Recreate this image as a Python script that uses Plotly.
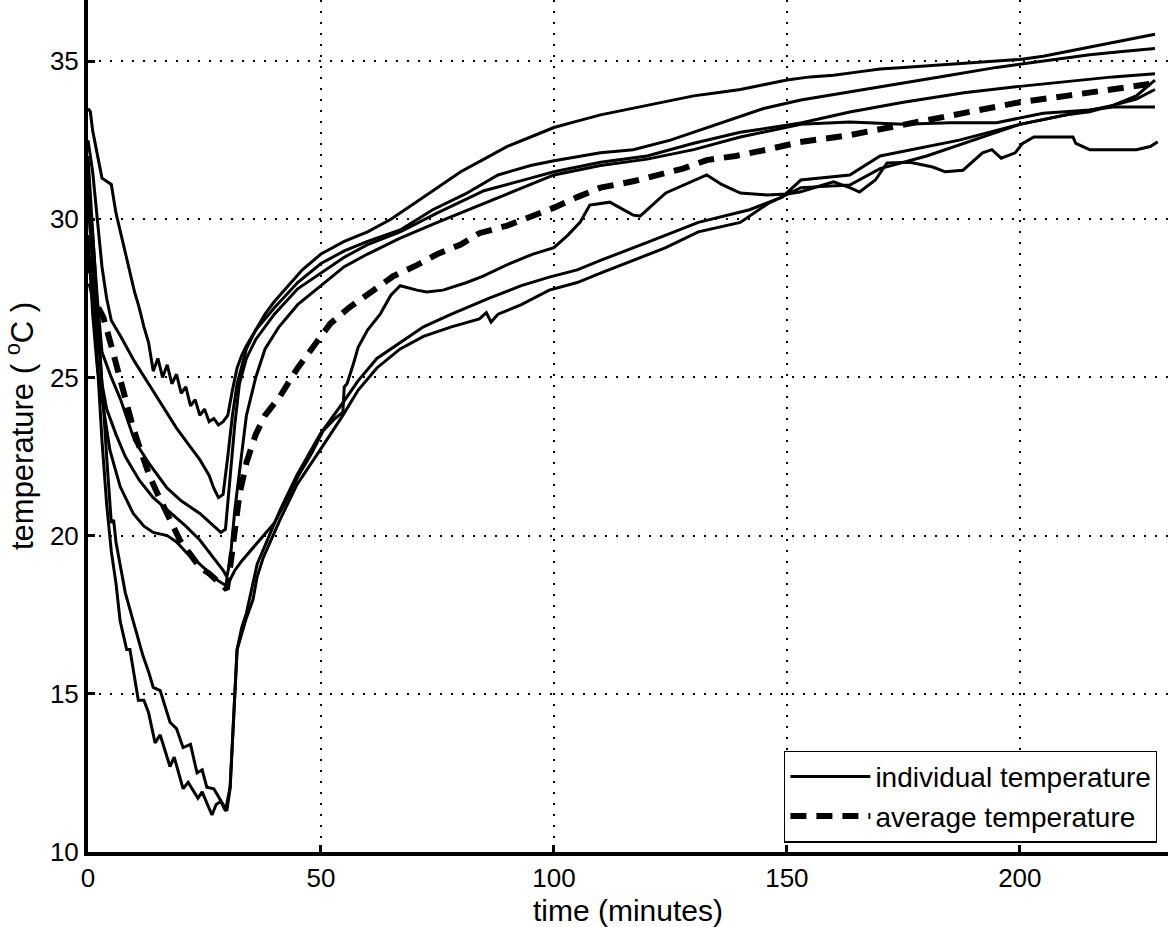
import plotly.graph_objects as go

# ---------------- data ----------------
t_c1 = [0, 0.5, 1, 2, 3, 4, 5, 6, 7, 8, 9, 10, 11, 12, 13, 14, 15, 16, 17, 18, 19, 20, 21, 22, 23, 24, 25, 26, 27, 28,
        29, 30, 31, 32, 33, 34, 36, 38, 40, 43, 46, 50, 55, 60, 65, 70, 75, 80, 85, 90, 95, 100, 105, 110, 115, 120,
        125, 130, 135, 140, 145, 150, 155, 160, 165, 170, 175, 180, 185, 190, 195, 200, 205, 210, 215, 220, 225, 229]
y_c1 = [33.5, 33.4, 32.8, 32.0, 31.3, 31.2, 31.1, 30.2, 29.6, 28.9, 28.3, 27.7, 27.2, 26.6, 26.1, 25.2, 25.6, 25.0,
        25.4, 24.8, 25.1, 24.5, 24.7, 24.1, 24.3, 23.8, 24.0, 23.6, 23.7, 23.5, 23.6, 23.8, 24.6, 25.3, 25.7, 26.0,
        26.5, 27.0, 27.4, 27.9, 28.4, 28.9, 29.3, 29.6, 30.0, 30.5, 31.0, 31.5, 31.9, 32.3, 32.6, 32.9, 33.1, 33.3,
        33.45, 33.6, 33.75, 33.9, 34.0, 34.1, 34.25, 34.4, 34.5, 34.55, 34.65, 34.75, 34.8, 34.85, 34.9, 34.95, 35.0,
        35.05, 35.15, 35.3, 35.45, 35.6, 35.75, 35.85]

t_c2 = [0, 1, 2, 3, 4, 5, 7, 10, 13, 16, 19, 22, 24, 26, 27, 28, 29, 30, 31, 32, 34, 36, 40, 45, 50, 55, 60, 67, 74,
        81, 88, 95, 100, 110, 117, 125, 135, 145, 153, 163.5, 175, 185, 195, 205, 215, 222, 229]
y_c2 = [32.5, 31.5, 30.0, 28.5, 27.5, 26.8, 26.3, 25.5, 24.8, 24.1, 23.4, 22.8, 22.4, 21.9, 21.5, 21.2, 21.3, 22.5,
        23.8, 24.8, 25.9, 26.5, 27.2, 28.0, 28.6, 29.0, 29.3, 29.66, 30.3, 30.8, 31.4, 31.7, 31.85, 32.1, 32.2, 32.5,
        33.0, 33.5, 33.77, 34.02, 34.3, 34.55, 34.8, 35.0, 35.2, 35.3, 35.4]

t_c3 = [0, 1, 2, 3, 5, 7, 10, 13, 17, 20, 24, 27, 28.5, 29.5, 30.5, 31.5, 32.5, 34, 36, 40, 45, 50, 55, 60, 67, 75,
        85, 95, 100, 110, 120, 130, 140, 153, 163.5, 175, 188, 200, 210, 220, 229]
y_c3 = [31.0, 29.5, 27.5, 25.8, 25.0, 24.3, 23.0, 22.3, 21.5, 21.1, 20.7, 20.3, 20.1, 20.2, 21.8, 23.5, 24.8, 25.6,
        26.2, 27.0, 27.8, 28.3, 28.8, 29.2, 29.6, 30.2, 30.9, 31.3, 31.5, 31.8, 32.0, 32.4, 32.75, 33.04, 33.39, 33.7,
        34.0, 34.2, 34.35, 34.5, 34.6]

t_c4 = [0, 1, 2, 3, 4, 6, 8, 11, 14, 18, 21, 24, 27, 29, 29.8, 30.5, 31.5, 32.6, 34, 36, 38, 41, 45, 50, 55, 60, 67,
        75, 85, 95, 100, 110, 120, 130, 140, 153, 163.5, 175, 185, 195, 200, 205, 215, 220, 229]
y_c4 = [30.5, 28.5, 26.5, 24.8, 24.0, 23.2, 22.5, 21.75, 21.2, 20.7, 20.3, 19.86, 19.3, 18.9, 18.7, 19.2, 20.8, 22.2,
        23.8, 25.0, 25.9, 26.6, 27.3, 27.9, 28.5, 28.9, 29.4, 29.9, 30.5, 31.1, 31.4, 31.7, 31.9, 32.2, 32.6, 33.0,
        33.07, 33.0, 33.05, 33.05, 33.2, 33.35, 33.45, 33.55, 33.55]

t_c5 = [0, 1, 2, 3, 4.7, 6.9, 9.7, 12, 14, 17, 19, 21.2, 24, 27.7, 29.8, 30.5, 31.5, 33, 35.4, 37, 40, 42.5, 45, 48,
        50.4, 53, 54.7, 55, 55.6, 57, 58, 60, 62.7, 65, 67, 70.6, 72.7, 76.2, 81.3, 84.8, 90.5, 95.5, 100, 103, 105.6,
        107.7, 112, 117, 118.5, 124, 128, 132.8, 136, 140, 145.7, 150, 152.8, 156, 160, 163.5, 165.6, 169, 171.5,
        176.4, 181.3, 184, 187.8, 192, 194, 196, 199, 200.6, 203, 211.4, 212, 215, 217, 225, 228, 229.6]
y_c5 = [29.5, 27.0, 25.3, 24.3, 22.7, 21.55, 20.7, 20.3, 20.1, 20.0, 19.8, 19.45, 19.1, 18.6, 18.4, 18.6, 18.9, 19.2,
        19.6, 19.9, 20.4, 21.1, 21.85, 22.6, 23.3, 23.7, 23.9, 24.7, 24.8, 25.45, 25.96, 26.5, 27.0, 27.6, 27.9, 27.76,
        27.7, 27.76, 28.0, 28.2, 28.6, 28.9, 29.1, 29.5, 29.9, 30.45, 30.54, 30.13, 30.1, 30.83, 31.1, 31.4, 31.1,
        30.83, 30.77, 30.8, 30.86, 31.0, 31.18, 31.0, 30.86, 31.24, 31.78, 31.8, 31.65, 31.5, 31.55, 32.1, 32.2, 31.93,
        32.1, 32.4, 32.6, 32.6, 32.4, 32.2, 32.2, 32.2, 32.3, 32.45]

t_c6 = [0, 1, 2, 3, 4, 5, 5.5, 6, 7, 8, 9.7, 11.8, 13, 14, 15.5, 17.6, 19, 20.4, 22, 23.4, 24.5, 25.5, 27, 28.5, 29.8,
        30.5, 31.2, 32, 33, 34, 36.3, 38, 41.2, 44.8, 49.8, 54.7, 58, 62, 67, 72, 78, 86, 93, 99, 105, 110, 120.6,
        131, 142, 149, 153, 163.5, 170, 180, 187, 200, 210, 220, 225, 229]
y_c6 = [32.0, 29.5, 27.0, 24.8, 22.5, 20.4, 20.5, 19.8, 19.0, 18.2, 17.3, 16.2, 15.7, 15.2, 15.1, 14.1, 13.9, 13.3,
        13.4, 12.5, 12.6, 12.05, 12.0, 11.6, 11.3, 12.0, 14.0, 16.4, 17.1, 17.55, 19.1, 19.7, 20.8, 21.9, 23.2, 24.2,
        24.9, 25.6, 26.1, 26.6, 27.0, 27.5, 27.9, 28.17, 28.4, 28.7, 29.3, 29.9, 30.3, 30.7, 31.24, 31.4, 32.0, 32.3,
        32.5, 33.0, 33.3, 33.6, 33.9, 34.4]

t_c7 = [0, 1, 2, 3, 4, 5, 6, 6.9, 8.3, 9, 10.8, 12, 13, 14.4, 15.5, 17.6, 18.5, 20.4, 21.5, 23.6, 24.5, 26.6, 27.5,
        28.5, 29.5, 30.5, 31.3, 32, 34, 35.4, 36.3, 37.6, 41.2, 44.8, 49.8, 54.7, 58, 62, 67, 72, 78, 84, 85.5, 86.5,
        88, 93, 99, 105, 110, 120.6, 124, 131, 140, 146, 153, 163.5, 170, 180, 190, 200, 210, 215, 220, 225, 229]
y_c7 = [31.5, 28.5, 25.5, 23.0, 21.0, 19.5, 18.5, 17.3, 16.4, 16.4, 14.8, 14.8, 14.4, 13.45, 13.7, 12.7, 13.0, 12.0,
        12.2, 11.7, 11.9, 11.17, 11.5, 11.6, 11.3, 12.05, 14.5, 16.4, 17.4, 17.97, 18.7, 19.3, 20.5, 21.6, 22.7, 23.8,
        24.6, 25.3, 25.9, 26.3, 26.6, 26.85, 27.05, 26.75, 27.0, 27.3, 27.76, 28.0, 28.3, 28.9, 29.1, 29.6, 29.9,
        30.5, 31.0, 31.08, 31.6, 32.0, 32.5, 33.0, 33.3, 33.4, 33.6, 33.8, 34.1]

t_avg = [0, 0.5, 1.5, 3.3, 5, 6.2, 8, 9.7, 11.5, 13.3, 15, 17, 19.7, 22, 24, 26, 27.7, 29.8, 30.5, 31.5, 32.5, 34, 36,
         38, 41.2, 45, 49, 52, 56, 60, 65.5, 70.6, 75, 80, 84, 90, 95.5, 100.6, 105, 110, 117, 122.7, 127.7, 132.8,
         139, 145.7, 152.8, 163.5, 170, 180, 190, 200, 210, 220, 229]
y_avg = [28.8, 28.0, 27.4, 26.9, 26.0, 25.3, 24.3, 23.4, 22.6, 21.85, 21.3, 20.7, 19.86, 19.4, 19.0, 18.8, 18.6, 18.3,
         19.0, 20.3, 21.3, 22.3, 23.2, 23.8, 24.4, 25.3, 26.1, 26.7, 27.2, 27.6, 28.2, 28.55, 28.9, 29.2, 29.56, 29.8,
         30.1, 30.4, 30.7, 31.0, 31.2, 31.4, 31.6, 31.87, 32.0, 32.2, 32.44, 32.66, 32.85, 33.15, 33.45, 33.7, 33.9,
         34.1, 34.3]

individual = [(t_c1, y_c1), (t_c2, y_c2), (t_c3, y_c3), (t_c4, y_c4), (t_c5, y_c5), (t_c6, y_c6), (t_c7, y_c7)]

x_ticks = [0, 50, 100, 150, 200]
y_ticks = [10, 15, 20, 25, 30, 35]
x_range = [0, 231.8]
y_range = [10, 36.93]

FONT = "Liberation Sans, Arial, Helvetica, sans-serif"

# ---------------- figure ----------------
fig = go.Figure()
for i, (tt, yy) in enumerate(individual):
    fig.add_trace(go.Scatter(
        x=tt, y=yy, mode="lines",
        line=dict(color="black", width=3),
        name="individual temperature",
        legendgroup="ind",
        showlegend=(i == 0),
    ))

fig.add_trace(go.Scatter(
    x=t_avg, y=y_avg, mode="lines",
    line=dict(color="black", width=6, dash="16px,10px"),
    name="average temperature",
))

axis_common = dict(
    showline=True, linecolor="black", linewidth=4,
    ticks="inside", ticklen=7, tickwidth=2.5, tickcolor="black",
    showgrid=True, gridcolor="black", gridwidth=1.6, griddash="2px,9px",
    zeroline=False, mirror=False, automargin=False,
    tickfont=dict(family=FONT, size=26, color="black"),
)

fig.update_xaxes(
    range=x_range, tickvals=x_ticks, ticktext=[str(v) for v in x_ticks],
    title=dict(text="time (minutes)", font=dict(family=FONT, size=30, color="black")),
    **axis_common,
)
fig.update_yaxes(
    range=y_range, tickvals=y_ticks, ticktext=[str(v) for v in y_ticks],
    title=dict(text="temperature ( <sup>o</sup>C )", font=dict(family=FONT, size=31, color="black")),
    **axis_common,
)

fig.update_layout(
    width=1168, height=927,
    margin=dict(l=88, r=0, t=0, b=75, autoexpand=False),
    paper_bgcolor="white", plot_bgcolor="white",
    font=dict(family=FONT, color="black"),
    legend=dict(
        x=0.99, y=0.011, xanchor="right", yanchor="bottom",
        bgcolor="white", bordercolor="black", borderwidth=1.2,
        font=dict(family=FONT, size=28, color="black"),
        itemwidth=80, tracegroupgap=0,
    ),
    showlegend=True,
)

fig.write_html(
    "out.html",
    config={"displayModeBar": False},
    post_script="document.body.style.margin='0';document.body.style.padding='0';document.body.style.overflow='hidden';",
)
